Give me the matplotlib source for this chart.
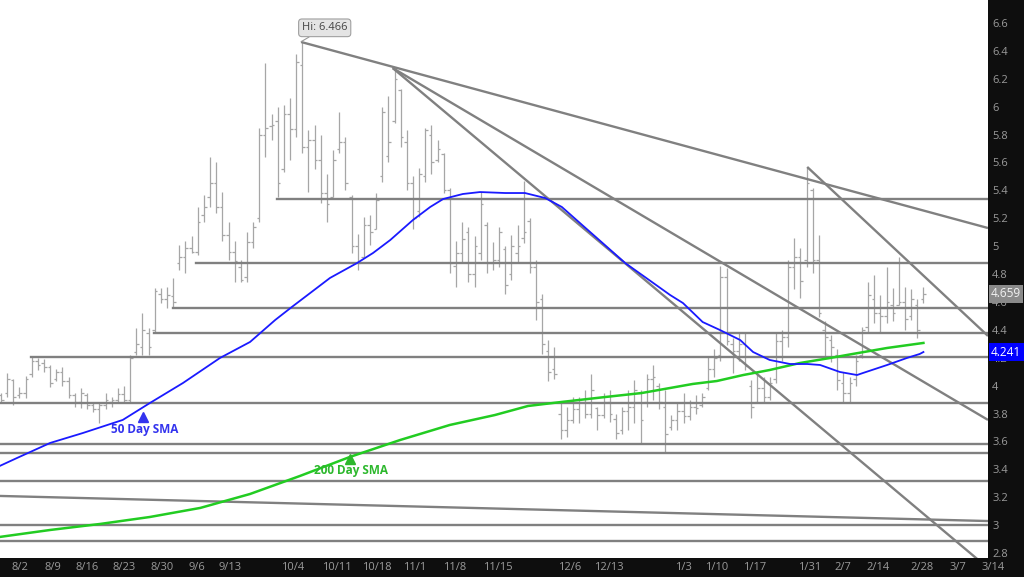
import numpy as np
import matplotlib
matplotlib.use("Agg")
import matplotlib.pyplot as plt
from matplotlib.transforms import blended_transform_factory

plt.rcParams['font.family'] = ['Open Sans', 'DejaVu Sans']

# daily OHLC bars (8/2 .. 2/28)
opens = [3.93, 3.95, 4.04, 3.93, 3.95, 4.08, 4.18, 4.16, 4.13, 4.05,
         4.10, 4.03, 3.93, 3.88, 3.93, 3.86, 3.83, 3.86, 3.88, 3.90,
         3.94, 3.90, 4.24, 4.28, 4.38, 4.40, 4.66, 4.62, 4.64, 4.88,
         4.92, 4.99, 4.96, 5.22, 5.35, 5.45, 5.28, 5.08, 4.96, 4.85,
         4.78, 5.03, 5.20, 5.80, 5.86, 5.90, 5.55, 5.95, 5.84, 6.30,
         5.71, 5.76, 5.62, 5.38, 5.35, 5.70, 5.75, 5.35, 5.00, 4.92,
         5.15, 5.12, 5.50, 5.65, 5.90, 6.12, 5.75, 5.45, 5.25, 5.50,
         5.80, 5.62, 5.66, 5.40, 4.86, 4.95, 5.10, 4.80, 4.95, 5.15,
         4.88, 4.90, 4.98, 4.80, 4.95, 5.06, 5.18, 4.85, 4.62, 4.25,
         4.12, 3.80, 3.68, 3.75, 3.83, 3.88, 3.80, 3.84, 3.79, 3.88,
         3.76, 3.68, 3.82, 3.85, 3.95, 3.88, 4.05, 4.00, 3.85, 3.70,
         3.75, 3.82, 3.78, 3.85, 3.86, 3.98, 4.12, 4.22, 4.78, 4.30,
         4.25, 4.30, 4.00, 3.88, 3.98, 3.92, 4.05, 4.32, 4.35, 4.85,
         4.92, 4.90, 5.40, 4.90, 4.40, 4.33, 4.22, 4.02, 3.95, 4.05,
         4.22, 4.42, 4.62, 4.52, 4.50, 4.58, 4.58, 4.60, 4.50, 4.58,
         4.62]
highs = [3.95, 4.09, 4.05, 3.99, 4.07, 4.21, 4.20, 4.19, 4.15, 4.12,
         4.13, 4.06, 3.95, 3.98, 3.95, 3.88, 3.88, 3.95, 3.92, 3.98,
         4.00, 4.22, 4.41, 4.52, 4.41, 4.70, 4.70, 4.71, 4.77, 5.01,
         5.04, 5.07, 5.28, 5.37, 5.64, 5.60, 5.39, 5.17, 5.04, 4.90,
         5.10, 5.17, 5.85, 6.31, 5.95, 6.00, 6.01, 6.06, 6.38, 6.466,
         5.83, 5.87, 5.80, 5.52, 5.69, 5.96, 5.78, 5.37, 5.09, 5.21,
         5.22, 5.38, 6.00, 6.08, 6.28, 6.13, 5.83, 5.50, 5.56, 5.85,
         5.87, 5.76, 5.67, 5.42, 5.04, 5.17, 5.14, 5.07, 5.39, 5.17,
         5.03, 5.14, 5.00, 5.08, 5.15, 5.47, 5.20, 4.90, 4.66, 4.33,
         4.28, 3.88, 3.85, 3.92, 3.92, 3.97, 4.08, 3.85, 3.95, 3.97,
         3.80, 3.85, 3.97, 4.04, 3.97, 4.08, 4.15, 4.02, 3.97, 3.79,
         3.88, 3.95, 3.90, 3.93, 3.95, 4.21, 4.26, 4.86, 4.84, 4.34,
         4.38, 4.38, 4.04, 4.09, 4.06, 4.06, 4.38, 4.40, 4.90, 5.06,
         4.99, 5.57, 5.42, 5.08, 4.46, 4.36, 4.26, 4.10, 4.06, 4.22,
         4.42, 4.74, 4.79, 4.65, 4.85, 4.70, 4.92, 4.71, 4.69, 4.62,
         4.71]
lows = [3.88, 3.92, 3.86, 3.91, 3.91, 4.06, 4.11, 4.10, 3.99, 4.03,
        4.00, 3.91, 3.85, 3.84, 3.83, 3.81, 3.73, 3.83, 3.85, 3.88,
        3.88, 3.88, 4.22, 4.22, 4.22, 4.38, 4.59, 4.56, 4.56, 4.83,
        4.81, 4.95, 4.94, 5.17, 5.28, 5.24, 5.04, 4.90, 4.74, 4.74,
        4.74, 4.99, 5.17, 5.64, 5.76, 5.35, 5.53, 5.62, 5.78, 5.67,
        5.39, 5.55, 5.31, 5.17, 5.35, 5.67, 5.40, 4.95, 4.83, 4.92,
        5.01, 5.12, 5.46, 5.60, 5.88, 5.71, 5.40, 5.12, 5.21, 5.46,
        5.52, 5.60, 5.38, 4.81, 4.71, 4.88, 4.74, 4.71, 4.90, 4.81,
        4.83, 4.85, 4.66, 4.76, 4.88, 5.02, 4.81, 4.47, 4.23, 4.03,
        4.05, 3.62, 3.63, 3.73, 3.73, 3.77, 3.77, 3.68, 3.77, 3.74,
        3.62, 3.65, 3.68, 3.73, 3.59, 3.85, 3.90, 3.83, 3.52, 3.68,
        3.68, 3.73, 3.75, 3.80, 3.85, 3.97, 4.06, 4.18, 4.29, 4.09,
        4.18, 4.11, 3.77, 3.88, 3.88, 3.90, 4.02, 4.18, 4.28, 4.69,
        4.63, 4.85, 4.81, 4.49, 4.20, 4.17, 3.97, 3.88, 3.88, 4.00,
        4.20, 4.38, 4.45, 4.38, 4.45, 4.46, 4.58, 4.40, 4.47, 4.34,
        4.59]
closes = [3.90, 4.05, 3.92, 3.95, 4.05, 4.18, 4.15, 4.13, 4.02, 4.10,
          4.03, 3.93, 3.88, 3.95, 3.86, 3.83, 3.86, 3.90, 3.90, 3.94,
          3.90, 4.20, 4.30, 4.40, 4.28, 4.68, 4.62, 4.65, 4.60, 4.92,
          4.99, 4.96, 5.17, 5.28, 5.45, 5.28, 5.08, 4.96, 4.89, 4.76,
          5.03, 5.14, 5.80, 5.85, 5.87, 5.45, 5.95, 5.84, 6.32, 5.71,
          5.76, 5.62, 5.38, 5.30, 5.62, 5.75, 5.45, 5.00, 4.88, 5.15,
          5.10, 5.33, 5.96, 5.75, 6.20, 5.78, 5.45, 5.20, 5.52, 5.83,
          5.60, 5.70, 5.40, 4.88, 4.95, 5.05, 4.80, 5.00, 5.30, 4.88,
          4.90, 5.10, 4.72, 5.00, 5.00, 5.10, 4.85, 4.60, 4.30, 4.10,
          4.08, 3.68, 3.75, 3.83, 3.88, 3.80, 3.97, 3.79, 3.88, 3.80,
          3.66, 3.82, 3.85, 3.97, 3.75, 4.05, 4.06, 3.88, 3.65, 3.75,
          3.82, 3.78, 3.85, 3.84, 3.92, 4.12, 4.20, 4.78, 4.32, 4.25,
          4.30, 4.14, 3.85, 3.98, 3.92, 4.02, 4.32, 4.35, 4.85, 4.92,
          4.75, 5.45, 4.90, 4.52, 4.35, 4.28, 4.04, 3.95, 4.02, 4.18,
          4.40, 4.65, 4.52, 4.50, 4.60, 4.52, 4.60, 4.48, 4.62, 4.40,
          4.659]

# moving averages, read at points along the curves (bar index, value)
sma50_x = [-0.2, 2.6, 8.0, 13.3, 19.8, 24.2, 29.6, 35.6, 40.5, 44.6, 47.3,
           53.5, 57.9, 60.5, 63.3, 67.0, 69.8, 71.9, 75.1, 77.9, 82.0, 85.2,
           88.5, 91.2, 94.5, 98.2, 101.5, 104.7, 108.8, 110.9, 114.1, 116.9,
           120.2, 122.3, 125.0, 128.3, 131.1, 133.2, 136.4, 139.2, 140.2,
           144.1, 147.3, 149.4, 150.0]
sma50_y = [3.424, 3.481, 3.589, 3.660, 3.754, 3.875, 4.019, 4.198, 4.313,
           4.471, 4.564, 4.772, 4.879, 4.951, 5.044, 5.188, 5.281, 5.338,
           5.374, 5.388, 5.381, 5.381, 5.345, 5.281, 5.152, 5.008, 4.879,
           4.779, 4.650, 4.592, 4.456, 4.399, 4.327, 4.241, 4.184, 4.155,
           4.155, 4.148, 4.098, 4.076, 4.091, 4.148, 4.198, 4.227, 4.241]
sma200_x = [-0.2, 8.0, 16.1, 24.2, 32.4, 40.5, 48.6, 56.7, 64.9, 73.0, 80.3,
            85.7, 91.2, 98.2, 104.2, 108.8, 112.5, 116.4, 120.7, 125.0,
            129.9, 134.8, 138.5, 144.1, 150.0]
sma200_y = [2.915, 2.965, 3.008, 3.058, 3.123, 3.223, 3.352, 3.488, 3.610,
            3.718, 3.789, 3.854, 3.883, 3.918, 3.947, 3.983, 4.012, 4.033,
            4.076, 4.112, 4.162, 4.198, 4.227, 4.270, 4.306]

# support / resistance levels: (start bar, price)
levels = [(44.9, 5.338), (31.7, 4.879), (28.0, 4.557), (24.9, 4.378),
          (4.9, 4.206), (-1, 3.875), (-1, 3.581), (-1, 3.516), (-1, 3.316),
          (-1, 2.999), (-1, 2.886)]
# trend lines: (x0, y0, x1, y1)
trends = [(48.8, 6.464, 160.5, 5.130), (63.7, 6.277, 160.5, 3.754),
          (63.7, 6.277, 160.5, 2.692), (131.1, 5.568, 160.5, 4.356),
          (-0.2, 3.209, 160.5, 3.029)]

date_labels = ['8/2', '8/9', '8/16', '8/23', '8/30', '9/6', '9/13', '10/4',
               '10/11', '10/18', '11/1', '11/8', '11/15', '12/6', '12/13',
               '1/3', '1/10', '1/17', '1/31', '2/7', '2/14', '2/28', '3/7',
               '3/14']
date_pos = [3.1, 8.5, 14.0, 20.0, 26.2, 31.9, 37.2, 47.5, 54.6, 61.1, 67.3,
            73.8, 80.8, 92.5, 98.9, 110.9, 116.3, 122.6, 131.5, 136.9, 142.6,
            149.8, 155.6, 161.3]
price_ticks = [2.8, 3.0, 3.2, 3.4, 3.6, 3.8, 4.0, 4.2, 4.4, 4.6, 4.8, 5.0,
               5.2, 5.4, 5.6, 5.8, 6.0, 6.2, 6.4, 6.6]

fig = plt.figure(figsize=(10.24, 5.77), dpi=100, facecolor='#0e0e0e')
ax = fig.add_axes([0, 19 / 577, 988 / 1024, 558 / 577])
ax.set_facecolor('white')
ax.set_xlim(-0.16, 160.5)
ax.set_ylim(2.764, 6.765)
for s in ax.spines.values():
    s.set_visible(False)

x = np.arange(len(closes))
bar_col = '#a6a6a6'
ax.vlines(x, lows, highs, color=bar_col, lw=0.9, zorder=2)
ax.hlines(opens, x - 0.42, x, color=bar_col, lw=0.9, zorder=2)
ax.hlines(closes, x, x + 0.42, color=bar_col, lw=0.9, zorder=2)

line_col = '#808080'
for x0, p in levels:
    ax.plot([x0, 161], [p, p], color=line_col, lw=1.7, zorder=3)
for x0, y0, x1, y1 in trends:
    ax.plot([x0, x1], [y0, y1], color=line_col, lw=1.7, zorder=3,
            solid_capstyle='butt')

ax.plot(sma200_x, sma200_y, color='#22cc22', lw=1.8, zorder=4)
ax.plot(sma50_x, sma50_y, color='#1a1aff', lw=1.3, zorder=4)

ax.plot([23.1], [3.775], marker='^', ms=7, color='#3333ee', zorder=5)
ax.text(23.3, 3.682, '50 Day SMA', color='#3333ee', fontsize=8.5,
        fontweight='bold', ha='center', va='center', zorder=5)
ax.plot([56.7], [3.474], marker='^', ms=7, color='#2db82d', zorder=5)
ax.text(56.9, 3.388, '200 Day SMA', color='#2db82d', fontsize=8.5,
        fontweight='bold', ha='center', va='center', zorder=5)

ax.annotate('Hi: 6.466', xy=(48.8, 6.466), xytext=(17, 10),
            textcoords='offset points', fontsize=8, color='#444444',
            ha='center', va='center', zorder=6,
            bbox=dict(boxstyle='round,pad=0.3', fc='#e4e4e4', ec='#a0a0a0',
                      lw=0.8),
            arrowprops=dict(arrowstyle='-', color='#999999', lw=0.8,
                            shrinkA=0, shrinkB=0))

ax.yaxis.tick_right()
ax.set_yticks(price_ticks)
ax.set_yticklabels(['%g' % v for v in price_ticks])
ax.tick_params(axis='y', length=0, pad=3, labelsize=8, labelcolor='#9b9b9b')
ax.set_xticks([])

tr = blended_transform_factory(ax.transData, ax.transAxes)
for lab, pos in zip(date_labels, date_pos):
    ax.text(pos, -0.017, lab, transform=tr, ha='center', va='center',
            fontsize=8, color='#9b9b9b', clip_on=False)

tr_y = blended_transform_factory(ax.transAxes, ax.transData)
ax.text(1.003, closes[-1], '%.3f' % closes[-1], transform=tr_y,
        ha='left', va='center', fontsize=8.5, color='#f2f2f2', clip_on=False,
        zorder=10, bbox=dict(boxstyle='square,pad=0.2', fc='#8a8a8a',
                             ec='none'))
ax.text(1.003, sma50_y[-1], '%.3f' % sma50_y[-1], transform=tr_y,
        ha='left', va='center', fontsize=8.5, color='white', clip_on=False,
        zorder=10, bbox=dict(boxstyle='square,pad=0.2', fc='#0000ff',
                             ec='none'))

fig.savefig('out.png', dpi=100, facecolor=fig.get_facecolor())
